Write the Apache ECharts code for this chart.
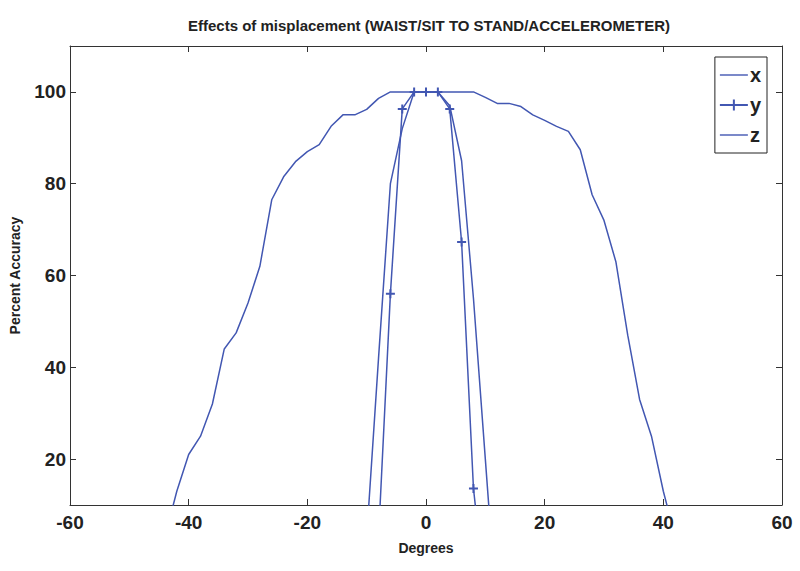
<!DOCTYPE html>
<html>
<head>
<meta charset="utf-8">
<script src="https://cdn.jsdelivr.net/npm/echarts@6/dist/echarts.min.js"></script>
<style>
  html, body { margin: 0; padding: 0; background: #fff; }
  #chart { width: 800px; height: 571px; }
</style>
</head>
<body>
<div id="chart"></div>
<script>
(function() {
  var blue = '#4257b2';
  var ink = '#222';
  var font = "'Liberation Sans', Arial, sans-serif";

  // degrees, step 2
  var xDeg = [-44, -42, -40, -38, -36, -34, -32, -30, -28, -26, -24, -22, -20, -18, -16, -14, -12, -10, -8, -6,
              -4, -2, 0, 2, 4, 6, 8, 10, 12, 14, 16, 18, 20, 22, 24, 26, 28, 30, 32, 34, 36, 38, 40, 42];
  var xAcc = [3, 13, 21, 25, 32, 44, 47.5, 54, 62, 76.5, 81.5, 84.8, 87, 88.5, 92.5, 95, 95, 96.2, 98.6, 100,
              100, 100, 100, 100, 100, 100, 100, 98.8, 97.5, 97.5, 96.8, 95, 93.8, 92.5, 91.4, 87.4, 77.6, 72, 63, 47, 33, 25, 13, 3];

  var yDeg = [-8, -6, -4, -2, 0, 2, 4, 6, 8, 10];
  var yAcc = [3, 56, 96.3, 100, 100, 100, 96.3, 67.3, 13.6, -10];

  var zDeg = [-10, -8, -6, -4, -2, 0, 2, 4, 6, 8, 10, 12];
  var zAcc = [3, 42, 80, 92, 100, 100, 100, 97, 85, 55, 20, -15];

  var yTicks = [20, 40, 60, 80, 100];

  function pairs(a, b) {
    return a.map(function(v, i) { return [v, b[i]]; });
  }

  var plus = 'path://M0,5 L10,5 M5,0 L5,10';
  var dash = 'path://M0,0 L30,0 L30,1.5 L0,1.5 Z';

  var chart = echarts.init(document.getElementById('chart'), null, { renderer: 'svg' });
  chart.setOption({
    animation: false,
    title: {
      text: 'Effects of misplacement (WAIST/SIT TO STAND/ACCELEROMETER)',
      left: 424, top: 13, textAlign: 'center',
      textStyle: { fontFamily: font, fontSize: 15, fontWeight: 'bold', color: ink }
    },
    grid: { left: 65, right: 18, top: 46, bottom: 66 },
    legend: {
      orient: 'vertical',
      right: 33, top: 57,
      padding: [8, 6, 8, 4],
      itemGap: 10,
      itemWidth: 28,
      itemHeight: 14,
      borderColor: '#222',
      borderWidth: 1,
      backgroundColor: '#fff',
      textStyle: { fontFamily: font, fontSize: 20, fontWeight: 'bold', color: ink, padding: [0, 0, 0, -3] },
      data: [{ name: 'x', icon: dash }, { name: 'y' }, { name: 'z', icon: dash }]
    },
    xAxis: [{
      type: 'value', min: -60, max: 60, interval: 20,
      name: 'Degrees', nameLocation: 'middle', nameGap: 36,
      nameTextStyle: { fontFamily: font, fontSize: 14, fontWeight: 'bold', color: ink },
      axisLine: { onZero: false, lineStyle: { color: '#333', width: 1 } },
      axisTick: { inside: true, length: 6, lineStyle: { color: '#333' } },
      axisLabel: { fontFamily: font, fontSize: 19, fontWeight: 'bold', color: ink, margin: 8 },
      splitLine: { show: false }
    }, {
      type: 'value', min: -60, max: 60, interval: 20, position: 'top',
      axisLine: { onZero: false, lineStyle: { color: '#333', width: 1 } },
      axisTick: { inside: true, length: 6, lineStyle: { color: '#333' } },
      axisLabel: { show: false },
      splitLine: { show: false }
    }],
    yAxis: [{
      type: 'value', min: 10, max: 110,
      name: 'Percent Accuracy', nameLocation: 'middle', nameGap: 48,
      nameTextStyle: { fontFamily: font, fontSize: 14, fontWeight: 'bold', color: ink },
      axisLine: { onZero: false, lineStyle: { color: '#333', width: 1 } },
      axisTick: { inside: true, length: 6, customValues: yTicks, lineStyle: { color: '#333' } },
      axisLabel: { fontFamily: font, fontSize: 19, fontWeight: 'bold', color: ink, margin: 4, customValues: yTicks },
      splitLine: { show: false }
    }, {
      type: 'value', min: 10, max: 110, position: 'right',
      axisLine: { show: true, onZero: false, lineStyle: { color: '#333', width: 1 } },
      axisTick: { show: true, inside: true, length: 6, customValues: yTicks, lineStyle: { color: '#333' } },
      axisLabel: { show: false },
      splitLine: { show: false }
    }],
    series: [{
      name: 'x', type: 'line', symbol: 'none', clip: true,
      lineStyle: { color: blue, width: 1.5 }, itemStyle: { color: blue },
      data: pairs(xDeg, xAcc)
    }, {
      name: 'y', type: 'line', symbol: plus, symbolSize: 9, showSymbol: true, clip: true,
      lineStyle: { color: blue, width: 1.5 },
      itemStyle: { color: blue, borderColor: blue, borderWidth: 2 },
      data: pairs(yDeg, yAcc)
    }, {
      name: 'z', type: 'line', symbol: 'none', clip: true,
      lineStyle: { color: blue, width: 1.5 }, itemStyle: { color: blue },
      data: pairs(zDeg, zAcc)
    }]
  });
  window.addEventListener('resize', function() { chart.resize(); });
})();
</script>
</body>
</html>
